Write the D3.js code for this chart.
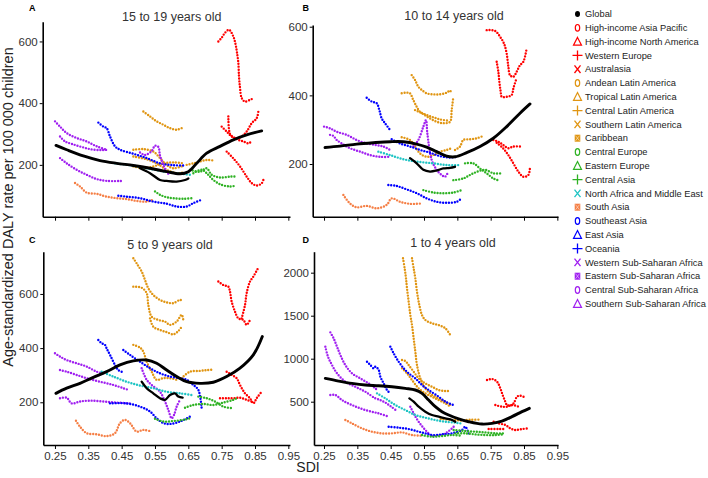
<!DOCTYPE html>
<html><head><meta charset="utf-8">
<script src="https://cdn.jsdelivr.net/npm/d3@7/dist/d3.min.js"></script>
<style>body{margin:0;background:#fff}svg{display:block;font-family:Arial,"Liberation Sans",sans-serif}</style>
</head><body><svg id="c" width="708" height="478"></svg>
<script>
// ---------------- DATA ----------------
const regions = ["Global","High-income Asia Pacific","High-income North America","Western Europe","Australasia",
 "Andean Latin America","Tropical Latin America","Central Latin America","Southern Latin America","Caribbean",
 "Central Europe","Eastern Europe","Central Asia","North Africa and Middle East","South Asia",
 "Southeast Asia","East Asia","Oceania","Western Sub-Saharan Africa","Eastern Sub-Saharan Africa",
 "Central Sub-Saharan Africa","Southern Sub-Saharan Africa"];
const RED="#ff0000", ORA="#e09512", GRN="#2fb224", CYA="#1fc4c4", COR="#f57f45", BLU="#0000ff", PUR="#a020f0";
const regionColors = ["#000000",RED,RED,RED,RED,ORA,ORA,ORA,ORA,ORA,GRN,GRN,GRN,CYA,COR,BLU,BLU,BLU,PUR,PUR,PUR,PUR];
const regionShapes = ["dot","circle","triangle","plus","cross","circle","triangle","plus","cross","boxx",
 "circle","triangle","plus","cross","boxx","circle","triangle","plus","cross","boxx","circle","triangle"];
const panelTitles = ["15 to 19 years old","10 to 14 years old","5 to 9 years old","1 to 4 years old"];
const panelLetters = ["A","B","C","D"];
const xTicks = [0.25,0.35,0.45,0.55,0.65,0.75,0.85,0.95];
const yTicksA = [200,400,600], yTicksB = [200,400,600], yTicksC = [200,400,600], yTicksD = [500,1000,1500,2000];

// series: [region index, [[SDI, DALY rate], ...]]
const seriesA = [
 [1,[[0.74,600],[0.75,612],[0.76,628],[0.772,638],[0.785,616],[0.792,589],[0.797,556],[0.80,531],[0.802,486],[0.805,450],[0.81,417],[0.82,405],[0.835,411],[0.842,414]]],
 [2,[[0.765,243],[0.785,221],[0.805,195],[0.825,162],[0.84,141],[0.855,133],[0.87,140],[0.875,151]]],
 [3,[[0.75,324],[0.765,308],[0.78,292],[0.795,286],[0.81,292],[0.825,308],[0.84,335],[0.855,351],[0.86,373]]],
 [4,[[0.77,357],[0.775,300],[0.785,290],[0.80,281],[0.815,276],[0.83,270],[0.84,276]]],
 [5,[[0.485,249],[0.515,251],[0.545,243],[0.565,222],[0.585,200],[0.605,189],[0.63,195]]],
 [6,[[0.515,373],[0.535,357],[0.555,341],[0.575,330],[0.595,319],[0.615,314],[0.63,319]]],
 [7,[[0.485,227],[0.525,218],[0.555,205],[0.585,184],[0.615,173],[0.635,175]]],
 [8,[[0.645,200],[0.665,205],[0.685,211],[0.705,216],[0.725,214]]],
 [9,[[0.485,195],[0.515,189],[0.545,195],[0.575,205],[0.605,208],[0.635,205]]],
 [10,[[0.55,114],[0.565,103],[0.585,95],[0.605,92],[0.635,90],[0.66,92]]],
 [11,[[0.665,173],[0.69,184],[0.705,173],[0.725,151],[0.75,135],[0.775,130],[0.79,132]]],
 [12,[[0.655,184],[0.685,178],[0.705,189],[0.72,168],[0.745,159],[0.775,162],[0.79,162]]],
 [13,[[0.43,205],[0.48,198],[0.53,188],[0.58,178],[0.62,172],[0.655,168]]],
 [14,[[0.31,141],[0.325,130],[0.345,110],[0.375,106],[0.405,97],[0.435,92],[0.465,89],[0.495,83],[0.525,81],[0.545,87]]],
 [15,[[0.38,337],[0.395,324],[0.405,319],[0.415,292],[0.43,260],[0.445,249],[0.485,236],[0.525,222],[0.565,205],[0.605,199],[0.635,198]]],
 [16,[[0.44,100],[0.465,97],[0.505,92],[0.545,81],[0.585,74],[0.615,65],[0.645,65],[0.665,76],[0.69,87]]],
 [19,[[0.25,341],[0.265,324],[0.285,303],[0.315,287],[0.345,276],[0.375,260],[0.405,249]]],
 [20,[[0.265,292],[0.28,276],[0.30,268],[0.33,258],[0.36,250],[0.39,248],[0.41,249]]],
 [18,[[0.265,222],[0.285,205],[0.315,184],[0.345,168],[0.375,154],[0.405,148],[0.45,148]]],
 [21,[[0.505,240],[0.52,232],[0.54,245],[0.55,262],[0.56,258],[0.565,230],[0.575,200],[0.585,178],[0.595,165]]]
];
const expectedA = [[0.253,263],[0.285,249],[0.335,229],[0.385,214],[0.435,205],[0.485,198],[0.535,189],[0.585,178],[0.625,171],[0.65,178],[0.675,205],[0.705,238],[0.745,260],[0.785,281],[0.825,297],[0.87,310]];
const globalA = [[0.505,189],[0.535,173],[0.565,151],[0.585,148],[0.615,146],[0.64,151],[0.65,156]];

const seriesB = [
 [1,[[0.738,590],[0.763,588],[0.778,571],[0.79,551],[0.798,522],[0.803,484],[0.808,459],[0.818,454],[0.828,469],[0.838,488],[0.848,498],[0.858,537]]],
 [2,[[0.768,498],[0.773,469],[0.776,440],[0.78,411],[0.783,396],[0.798,396],[0.813,401],[0.818,420],[0.826,445]]],
 [3,[[0.758,270],[0.773,265],[0.788,255],[0.803,246],[0.818,251],[0.838,251]]],
 [4,[[0.768,262],[0.788,245],[0.803,226],[0.818,202],[0.833,178],[0.848,163],[0.863,168],[0.868,192]]],
 [5,[[0.513,459],[0.523,445],[0.533,425],[0.543,416],[0.558,406],[0.578,403],[0.598,403],[0.618,408],[0.628,414],[0.633,405]]],
 [6,[[0.483,406],[0.498,408],[0.508,406],[0.518,386],[0.528,367],[0.538,352],[0.558,343],[0.578,336],[0.598,330],[0.623,326]]],
 [7,[[0.523,357],[0.543,348],[0.563,336],[0.588,323],[0.608,319],[0.628,323],[0.633,357],[0.638,396]]],
 [9,[[0.483,278],[0.508,270],[0.523,251],[0.538,231],[0.558,221],[0.578,226],[0.598,236],[0.618,241],[0.633,246]]],
 [8,[[0.643,241],[0.658,251],[0.668,270],[0.688,272],[0.708,275],[0.723,280]]],
 [19,[[0.25,309],[0.268,304],[0.288,294],[0.318,285],[0.348,270],[0.378,260],[0.408,255],[0.428,251],[0.448,241]]],
 [20,[[0.268,285],[0.278,282],[0.288,270],[0.303,260],[0.328,246],[0.358,236],[0.388,226],[0.418,221],[0.448,221]]],
 [21,[[0.518,251],[0.533,270],[0.548,309],[0.556,328],[0.56,289],[0.573,212],[0.588,183],[0.603,168],[0.613,163],[0.623,178]]],
 [15,[[0.378,393],[0.393,382],[0.408,377],[0.416,357],[0.423,333],[0.433,319],[0.448,299]]],
 [15,[[0.453,272],[0.478,260],[0.508,251],[0.538,241],[0.568,233],[0.598,223],[0.628,219],[0.648,221]]],
 [16,[[0.443,139],[0.468,136],[0.498,126],[0.528,115],[0.558,100],[0.588,90],[0.618,87],[0.648,90],[0.663,100]]],
 [14,[[0.308,110],[0.328,85],[0.348,74],[0.378,78],[0.408,71],[0.438,81],[0.453,100],[0.478,90],[0.508,84],[0.543,85]]],
 [10,[[0.548,124],[0.578,117],[0.608,115],[0.638,117],[0.663,124]]],
 [12,[[0.638,153],[0.668,158],[0.698,173],[0.733,183],[0.758,173],[0.783,173]]],
 [11,[[0.673,202],[0.698,202],[0.718,187],[0.738,173],[0.758,158],[0.778,151]]],
 [13,[[0.413,236],[0.448,226],[0.488,214],[0.528,207],[0.578,202],[0.618,197],[0.658,197]]]
];
const expectedB = [[0.253,248],[0.298,252],[0.348,258],[0.398,262],[0.448,265],[0.488,265],[0.528,258],[0.558,249],[0.588,236],[0.618,223],[0.643,221],[0.678,233],[0.718,251],[0.758,275],[0.798,309],[0.838,348],[0.868,375]];
const globalB = [[0.508,217],[0.528,202],[0.548,183],[0.568,178],[0.588,181],[0.608,187],[0.628,189],[0.643,192]];

const seriesC = [
 [5,[[0.485,732],[0.495,713],[0.51,683],[0.52,652],[0.53,621],[0.545,596],[0.565,578],[0.585,569],[0.605,566],[0.625,578],[0.633,575]]],
 [6,[[0.485,627],[0.51,623],[0.525,603],[0.53,559],[0.54,516],[0.56,504],[0.58,498],[0.595,486],[0.615,498],[0.63,523],[0.635,504]]],
 [7,[[0.535,510],[0.545,479],[0.565,467],[0.585,459],[0.605,451],[0.62,463],[0.63,479]]],
 [9,[[0.485,412],[0.505,402],[0.515,387],[0.525,350],[0.54,313],[0.555,283],[0.575,289],[0.595,289],[0.615,283]]],
 [8,[[0.63,289],[0.655,313],[0.685,316],[0.705,319],[0.72,320]]],
 [1,[[0.74,646],[0.755,633],[0.77,627],[0.775,609],[0.78,572],[0.79,535],[0.80,510],[0.815,504],[0.825,486],[0.835,504]]],
 [2,[[0.81,510],[0.82,559],[0.825,603],[0.835,646],[0.845,664],[0.86,697]]],
 [3,[[0.765,313],[0.78,301],[0.795,289],[0.805,264],[0.82,233],[0.835,215],[0.845,196],[0.855,215],[0.87,239]]],
 [4,[[0.745,215],[0.765,215],[0.785,215],[0.805,217],[0.825,209],[0.84,203]]],
 [19,[[0.25,381],[0.265,369],[0.285,356],[0.315,344],[0.345,332],[0.375,313],[0.395,307]]],
 [20,[[0.265,319],[0.285,313],[0.315,301],[0.345,289],[0.385,276],[0.425,264],[0.455,252],[0.47,246]]],
 [18,[[0.265,215],[0.285,217],[0.30,196],[0.325,203],[0.355,206],[0.395,203],[0.435,199],[0.475,196]]],
 [21,[[0.51,326],[0.525,283],[0.54,264],[0.565,239],[0.58,203],[0.59,172],[0.60,141],[0.607,153],[0.615,184],[0.625,209]]],
 [15,[[0.38,430],[0.39,418],[0.40,412],[0.405,399],[0.415,375],[0.43,338],[0.44,319],[0.45,313]]],
 [15,[[0.455,393],[0.475,375],[0.505,350],[0.535,326],[0.565,307],[0.595,295],[0.625,289],[0.645,283],[0.665,264],[0.68,246],[0.69,178]]],
 [16,[[0.415,196],[0.465,196],[0.505,184],[0.535,166],[0.555,141],[0.575,123],[0.595,120],[0.625,129],[0.655,147]]],
 [14,[[0.313,132],[0.325,110],[0.345,86],[0.375,82],[0.405,75],[0.43,86],[0.445,123],[0.46,135],[0.475,123],[0.495,92],[0.515,98],[0.54,92]]],
 [10,[[0.55,139],[0.575,129],[0.605,131],[0.635,135],[0.66,143]]],
 [12,[[0.64,180],[0.665,190],[0.695,194],[0.725,190],[0.755,199],[0.785,209],[0.795,215]]],
 [11,[[0.68,221],[0.705,215],[0.73,203],[0.755,184],[0.785,178]]],
 [13,[[0.39,313],[0.425,295],[0.465,276],[0.505,262],[0.545,252],[0.585,239],[0.625,233],[0.66,227]]]
];
const expectedC = [[0.253,233],[0.285,252],[0.325,270],[0.365,292],[0.405,313],[0.445,338],[0.485,353],[0.525,356],[0.555,344],[0.585,319],[0.615,295],[0.645,276],[0.685,270],[0.725,274],[0.765,295],[0.805,326],[0.845,375],[0.872,443]];
const globalC = [[0.51,276],[0.525,252],[0.545,233],[0.565,215],[0.58,209],[0.595,227],[0.61,233],[0.62,221],[0.633,217]];

const seriesD = [
 [5,[[0.487,2167],[0.492,2050],[0.496,1934],[0.499,1818],[0.504,1663],[0.509,1508],[0.514,1391],[0.519,1236],[0.524,1081],[0.529,926],[0.539,771],[0.554,655],[0.574,578],[0.594,539],[0.614,500],[0.629,461]]],
 [6,[[0.514,2167],[0.519,2050],[0.524,1934],[0.529,1779],[0.536,1624],[0.544,1508],[0.554,1450],[0.574,1411],[0.594,1391],[0.614,1353],[0.629,1275]]],
 [7,[[0.484,985],[0.494,973],[0.504,926],[0.519,849],[0.534,771],[0.554,713],[0.574,674],[0.594,636],[0.614,624],[0.629,628]]],
 [9,[[0.484,888],[0.499,830],[0.514,752],[0.534,655],[0.554,597],[0.574,558],[0.594,519],[0.614,481],[0.629,442]]],
 [8,[[0.60,300],[0.63,290],[0.66,282],[0.69,290],[0.72,292]]],
 [1,[[0.739,752],[0.754,764],[0.769,733],[0.779,655],[0.786,578],[0.794,500],[0.799,461],[0.809,455],[0.819,481],[0.829,558],[0.839,570],[0.854,547]]],
 [2,[[0.764,461],[0.784,442],[0.799,442],[0.814,461],[0.834,442]]],
 [3,[[0.759,267],[0.774,248],[0.794,229],[0.809,190],[0.824,171],[0.844,182],[0.864,190]]],
 [4,[[0.744,182],[0.774,182],[0.794,182]]],
 [19,[[0.269,1306],[0.279,1236],[0.289,1140],[0.299,1043],[0.314,926],[0.334,830],[0.359,771],[0.384,713],[0.404,655],[0.409,636]]],
 [20,[[0.254,1140],[0.262,1023],[0.274,926],[0.289,830],[0.314,733],[0.344,674],[0.374,616],[0.404,539],[0.419,519],[0.434,490],[0.449,450],[0.469,390]]],
 [18,[[0.269,578],[0.284,578],[0.304,519],[0.334,461],[0.374,403],[0.414,364],[0.444,326]]],
 [21,[[0.509,442],[0.519,364],[0.534,267],[0.554,171],[0.574,105],[0.594,105],[0.614,132],[0.634,190],[0.639,209]]],
 [15,[[0.379,965],[0.389,926],[0.399,888],[0.404,907],[0.414,870],[0.419,791],[0.429,713],[0.439,636],[0.449,597]]],
 [15,[[0.449,1140],[0.459,1062],[0.474,965],[0.489,888],[0.504,830],[0.524,771],[0.544,694],[0.564,636],[0.594,558],[0.614,500],[0.639,461]]],
 [16,[[0.444,209],[0.474,198],[0.504,182],[0.534,151],[0.554,132],[0.574,112],[0.604,120],[0.634,132],[0.664,171],[0.674,209],[0.684,132]]],
 [14,[[0.314,287],[0.334,248],[0.364,190],[0.394,151],[0.424,132],[0.454,132],[0.484,143],[0.514,112],[0.544,105]]],
 [10,[[0.544,112],[0.574,93],[0.604,101],[0.634,112],[0.664,105]]],
 [12,[[0.639,171],[0.674,159],[0.704,151],[0.734,143],[0.764,132],[0.789,132]]],
 [11,[[0.644,132],[0.674,132],[0.704,120],[0.734,112],[0.764,112],[0.789,120]]],
 [13,[[0.409,597],[0.434,539],[0.464,461],[0.494,403],[0.524,345],[0.554,314],[0.584,287],[0.614,267],[0.644,256],[0.659,248]]]
];
const expectedD = [[0.254,771],[0.294,740],[0.334,713],[0.374,694],[0.414,686],[0.454,674],[0.494,655],[0.524,636],[0.544,597],[0.564,519],[0.584,442],[0.604,384],[0.624,345],[0.654,299],[0.684,267],[0.724,240],[0.754,248],[0.784,275],[0.814,326],[0.844,384],[0.866,423]];
const globalD = [[0.506,539],[0.519,500],[0.534,442],[0.554,384],[0.574,345],[0.594,326],[0.614,306],[0.634,287],[0.644,267]];

// ---------------- LAYOUT ----------------
const layout = [
 {xr:[42.7,290], xd:[0.213,0.955], yr:[216.7,21.7], yd:[32,664], labels:false, tx:171.7, ty:21, lx:29, ly:10.5},
 {xr:[312.7,558], xd:[0.216,0.952], yr:[216.7,25], yd:[46.5,605], labels:false, tx:454, ty:20, lx:302.5, ly:10.5},
 {xr:[43.3,290], xd:[0.215,0.955], yr:[445,251.7], yd:[42.3,756], labels:true, tx:170, ty:248.5, lx:29, ly:242.5},
 {xr:[314,558], xd:[0.22,0.952], yr:[445,251.7], yd:[-3.5,2244], labels:true, tx:453, ty:246.5, lx:302.5, ly:242.5}
];
const panelData = [
 [seriesA, expectedA, globalA, yTicksA],
 [seriesB, expectedB, globalB, yTicksB],
 [seriesC, expectedC, globalC, yTicksC],
 [seriesD, expectedD, globalD, yTicksD]
];

const svg = d3.select("#c");
svg.append("rect").attr("width",708).attr("height",478).attr("fill","#fff");

layout.forEach((L, i) => {
  const [series, expected, glob, yTicks] = panelData[i];
  const x = d3.scaleLinear().domain(L.xd).range(L.xr);
  const y = d3.scaleLinear().domain(L.yd).range(L.yr);
  const g = svg.append("g");
  const line = d3.line().x(d => x(d[0])).y(d => y(d[1])).curve(d3.curveCatmullRom.alpha(0.5));

  series.forEach(([r, pts]) => {
    g.append("path").attr("d", line(pts)).attr("fill","none")
     .attr("stroke", regionColors[r]).attr("stroke-width", 2.4)
     .attr("stroke-linecap","round").attr("stroke-dasharray","0 2.9");
  });
  g.append("path").attr("d", line(glob)).attr("fill","none").attr("stroke","#000")
   .attr("stroke-width",2.3).attr("stroke-linecap","round");
  g.append("path").attr("d", line(expected)).attr("fill","none").attr("stroke","#000")
   .attr("stroke-width",2.9).attr("stroke-linecap","round");

  const xa = d3.axisBottom(x).tickValues(xTicks).tickSize(4).tickSizeOuter(0).tickPadding(3)
    .tickFormat(L.labels ? d3.format(".2f") : () => "");
  const gx = g.append("g").attr("transform", `translate(0,${L.yr[0]})`).call(xa);
  const ya = d3.axisLeft(y).tickValues(yTicks).tickSize(3).tickSizeOuter(0).tickPadding(2).tickFormat(d3.format("d"));
  const gy = g.append("g").attr("transform", `translate(${L.xr[0]},0)`).call(ya);
  [gx, gy].forEach(a => {
    a.select(".domain").attr("stroke","#000").attr("stroke-width",1.6);
    a.selectAll(".tick line").attr("stroke","#000").attr("stroke-width",1);
    a.selectAll(".tick text").attr("fill","#333").attr("font-size","11.5px")
      .attr("font-family","Arial, 'Liberation Sans', sans-serif");
  });

  g.append("text").attr("x", L.tx).attr("y", L.ty).attr("text-anchor","middle")
   .attr("font-size","12.5px").attr("fill","#333").text(panelTitles[i]);
  g.append("text").attr("x", L.lx).attr("y", L.ly).attr("font-size","9px")
   .attr("font-weight","bold").attr("fill","#000").text(panelLetters[i]);
});

// axis titles
svg.append("text").attr("transform","translate(13,207) rotate(-90)").attr("text-anchor","middle")
  .attr("font-size","14.5px").attr("fill","#222").text("Age-standardized DALY rate per 100 000 children");
svg.append("text").attr("x",308).attr("y",472).attr("text-anchor","middle")
  .attr("font-size","14px").attr("fill","#222").text("SDI");

// legend
const lg = svg.append("g");
regions.forEach((name, i) => {
  const cy = 14 + 13.8 * i, cx = 577.5, c = regionColors[i], s = regionShapes[i];
  const it = lg.append("g");
  if (s === "dot") it.append("ellipse").attr("cx",cx).attr("cy",cy).attr("rx",2.5).attr("ry",3).attr("fill",c);
  if (s === "circle") it.append("ellipse").attr("cx",cx).attr("cy",cy).attr("rx",2.2).attr("ry",3.3)
     .attr("fill","none").attr("stroke",c).attr("stroke-width",1.2);
  if (s === "triangle") it.append("path").attr("d",`M${cx},${cy-4.2}L${cx+4},${cy+3.6}L${cx-4},${cy+3.6}Z`)
     .attr("fill","none").attr("stroke",c).attr("stroke-width",1.2);
  if (s === "plus") it.append("path").attr("d",`M${cx-5},${cy}H${cx+5}M${cx},${cy-5}V${cy+5}`)
     .attr("stroke",c).attr("stroke-width",1.3);
  if (s === "cross") it.append("path").attr("d",`M${cx-3},${cy-3.8}L${cx+3},${cy+3.8}M${cx+3},${cy-3.8}L${cx-3},${cy+3.8}`)
     .attr("stroke",c).attr("stroke-width",1.3);
  if (s === "boxx") {
    it.append("rect").attr("x",cx-2.8).attr("y",cy-3.5).attr("width",5.6).attr("height",7).attr("fill",c);
    it.append("path").attr("d",`M${cx-2},${cy-2.6}L${cx+2},${cy+2.6}M${cx+2},${cy-2.6}L${cx-2},${cy+2.6}`)
      .attr("stroke","#fff").attr("stroke-opacity",0.6).attr("stroke-width",0.8);
  }
  it.append("text").attr("x",585).attr("y",cy).attr("dy","0.35em").attr("font-size","9.3px")
    .attr("fill","#222").text(name);
});
</script></body></html>
